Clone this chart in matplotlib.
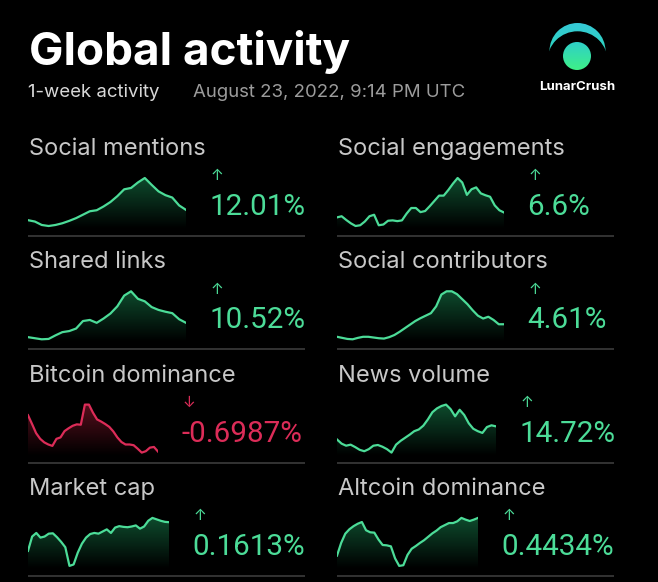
import numpy as np
import matplotlib.pyplot as plt
from matplotlib.colors import to_rgb
from matplotlib.patches import Circle

# ---- data ----
title = "Global activity"
subtitle = "1-week activity"
timestamp = "August 23, 2022, 9:14 PM UTC"

metrics = ["Social mentions", "Social engagements",
           "Shared links", "Social contributors",
           "Bitcoin dominance", "News volume",
           "Market cap", "Altcoin dominance"]
changes = [12.01, 6.6, 10.52, 4.61, -0.6987, 14.72, 0.1613, 0.4434]

social_mentions = [22, 18, 8, 5, 8, 13, 20, 28, 38, 48, 51, 62, 75, 92, 112,
                   116, 132, 145, 125, 106, 95, 88, 65, 52]
social_engagements = [35, 38, 28, 19, 12, 14, 24, 38, 42, 14, 16, 26, 27, 25,
                      27, 45, 60, 60, 49, 52, 65, 79, 93, 93, 108, 125, 140,
                      128, 95, 110, 115, 99, 94, 90, 67, 54, 48]
shared_links = [10, 7, 4, 5, 15, 24, 27, 34, 55, 58, 50, 62, 76, 96, 126, 138,
                117, 110, 94, 86, 81, 77, 60, 50]
social_contributors = [13, 10, 7, 6, 10, 13, 13, 11, 9, 8, 12, 18, 27, 37, 47,
                       57, 65, 72, 79, 98, 131, 140, 140, 132, 118, 104, 87,
                       72, 64, 69, 60, 48, 48]
bitcoin_dominance = [115, 90, 64, 48, 38, 32, 28, 48, 52, 70, 78, 85, 89, 88,
                     145, 145, 122, 103, 97, 90, 82, 69, 52, 39, 32, 32, 30,
                     20, 9, 13, 23, 25, 12]
news_volume = [45, 33, 27, 30, 23, 15, 11, 17, 27, 29, 24, 17, 7, 30, 41, 50,
               59, 69, 74, 85, 103, 124, 135, 142, 146, 133, 112, 131, 116,
               92, 76, 69, 64, 81, 86, 83]
market_cap = [50, 90, 100, 87, 90, 98, 99, 88, 75, 60, 8, 12, 45, 70, 87, 97,
              100, 98, 104, 110, 100, 115, 119, 117, 116, 118, 121, 112, 118,
              134, 142, 138, 134, 131, 130]
altcoin_dominance = [35, 72, 99, 112, 121, 128, 133, 109, 103, 102, 82, 66, 65,
                     62, 27, 5, 7, 37, 55, 63, 72, 80, 90, 100, 108, 118, 124,
                     130, 130, 135, 145, 140, 136, 140, 145]

series = [social_mentions, social_engagements, shared_links,
          social_contributors, bitcoin_dominance, news_volume,
          market_cap, altcoin_dominance]

# ---- layout (pixels) ----
W, H = 658, 582
col_x = [28, 337]
spark_right = [186, 504, 186, 504, 158, 496, 169, 478]
row_step = 113.3
sep_right = [305, 614]

GREEN = "#4cdc98"
RED = "#dc2c58"
LABEL = "#c8c8c8"
FONT = ["Inter", "DejaVu Sans"]
NUMFONT = ["Roboto", "DejaVu Sans"]

fig = plt.figure(figsize=(W / 100, H / 100), dpi=100, facecolor="black")
ax = fig.add_axes([0, 0, 1, 1])
ax.set_xlim(0, W)
ax.set_ylim(H, 0)
ax.axis("off")

# header
ax.text(29, 65, title, color="white", fontsize=33, fontweight="bold",
        family=FONT, va="baseline", ha="left")
ax.text(28, 97, subtitle, color="#d8d8d8", fontsize=13.4, family=FONT,
        va="baseline", ha="left")
ax.text(193, 97, timestamp, color="#9c9c9c", fontsize=13.4, family=FONT,
        va="baseline", ha="left")

# logo
def grad_img(c_top, c_bot, n=64):
    t = np.linspace(0, 1, n)[:, None]
    a = np.array(to_rgb(c_top))
    b = np.array(to_rgb(c_bot))
    return (a * (1 - t) + b * t)[:, None, :].repeat(2, axis=1)

outer = Circle((577.5, 51), 28, transform=ax.transData)
im = ax.imshow(grad_img("#36c9d6", "#22dfa6"), extent=(549, 606, 79, 23),
               origin="upper", aspect="auto", zorder=2)
im.set_clip_path(outer)
ax.add_patch(Circle((577.5, 61.6), 29.6, color="black", zorder=3))
inner = Circle((577, 56), 14, transform=ax.transData)
im2 = ax.imshow(grad_img("#2fd0c8", "#3ef088"), extent=(563, 591, 70, 42),
                origin="upper", aspect="auto", zorder=4)
im2.set_clip_path(inner)
ax.text(577.5, 86.5, "LunarCrush", color="white", fontsize=9.5,
        fontweight="bold", family=FONT, ha="center", va="center", zorder=5)
ax.set_xlim(0, W)
ax.set_ylim(H, 0)

# panels
for i, (name, chg, vals) in enumerate(zip(metrics, changes, series)):
    col = i % 2
    off = (i // 2) * row_step
    x0 = col_x[col]
    x1 = spark_right[i]
    up = chg >= 0
    color = GREEN if up else RED
    fill_rgb = (0.10, 0.55, 0.33) if up else (0.62, 0.10, 0.20)

    ax.text(x0 + 1, 155 + off, name, color=LABEL, fontsize=17, family=FONT,
            va="baseline", ha="left")

    vx = x1 + 23
    ax.text(vx, 215 + off, f"{chg}%", color=color, fontsize=21.3,
            family=NUMFONT, va="baseline", ha="left")
    ax.text(vx + 8, 176 + off, "\u2191" if up else "\u2193", color=color,
            fontsize=11, family=FONT, va="center", ha="center")

    ax.plot([x0, sep_right[col]], [236 + off, 236 + off], color="#3c3c3c",
            lw=1.2, solid_capstyle="butt")

    # sparkline
    top, bot = 176 + off, 229 + off
    sax = fig.add_axes([x0 / W, 1 - bot / H, (x1 - x0) / W, (bot - top) / H])
    sax.axis("off")
    y = np.array(vals, dtype=float)
    x = np.arange(len(y))
    lo, hi = y.min(), y.max()
    rng = hi - lo
    ylo, yhi = lo - rng * 3 / 48, hi + rng * 2 / 48
    poly = sax.fill_between(x, y, ylo, color="none", lw=0)
    g = np.zeros((64, 2, 4))
    g[..., :3] = fill_rgb
    g[..., 3] = np.linspace(0.55, 0.0, 64)[:, None]
    gi = sax.imshow(g, extent=(0, len(y) - 1, ylo, yhi), origin="upper",
                    aspect="auto", zorder=1)
    gi.set_clip_path(poly.get_paths()[0], transform=sax.transData)
    sax.plot(x, y, color=color, lw=1.6, zorder=2, solid_joinstyle="round")
    sax.set_xlim(0, len(y) - 1)
    sax.set_ylim(ylo, yhi)

fig.savefig("out.png", dpi=100, facecolor="black")
